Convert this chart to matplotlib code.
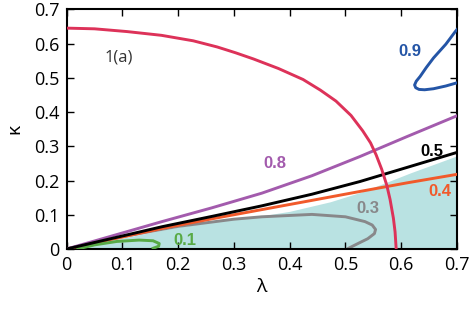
import numpy as np
import matplotlib
matplotlib.use("Agg")
import matplotlib.pyplot as plt

plt.rcParams["font.family"] = ["Open Sans", "DejaVu Sans"]

# curves (lambda, kappa)
red_lam = [0, 0.05, 0.108, 0.17, 0.227, 0.27, 0.303, 0.335, 0.38, 0.424, 0.455,
           0.483, 0.51, 0.531, 0.545, 0.555, 0.565, 0.574, 0.58, 0.586, 0.589, 0.591]
red_kap = [0.645, 0.643, 0.635, 0.624, 0.608, 0.59, 0.573, 0.555, 0.527, 0.495, 0.464,
           0.432, 0.39, 0.345, 0.31, 0.275, 0.233, 0.187, 0.145, 0.09, 0.05, 0]

purple_lam = [0, 0.171, 0.26, 0.35, 0.44, 0.526, 0.61, 0.7]
purple_kap = [0, 0.08, 0.12, 0.163, 0.214, 0.27, 0.328, 0.389]

black_lam = [0, 0.171, 0.26, 0.35, 0.44, 0.526, 0.61, 0.7]
black_kap = [0, 0.065, 0.095, 0.126, 0.16, 0.197, 0.238, 0.282]

orange_lam = [0, 0.171, 0.26, 0.35, 0.44, 0.526, 0.61, 0.7]
orange_kap = [0, 0.06, 0.088, 0.115, 0.142, 0.168, 0.193, 0.218]

gray_lam = [0, 0.1, 0.2, 0.3, 0.35, 0.44, 0.5, 0.535, 0.548, 0.554, 0.552, 0.54, 0.525, 0.503]
gray_kap = [0, 0.036, 0.066, 0.087, 0.094, 0.101, 0.094, 0.08, 0.07, 0.057, 0.045, 0.03, 0.018, 0]

green_lam = [0.02, 0.05, 0.09, 0.13, 0.155, 0.166, 0.165, 0.155]
green_kap = [0, 0.012, 0.022, 0.026, 0.024, 0.016, 0.008, 0.002]

blue_lam = [0.71, 0.697, 0.68, 0.658, 0.645, 0.634, 0.627, 0.624, 0.626, 0.632,
            0.642, 0.658, 0.68, 0.71]
blue_kap = [0.66, 0.635, 0.598, 0.558, 0.53, 0.504, 0.49, 0.479, 0.471, 0.466,
            0.465, 0.468, 0.476, 0.49]

fill_lam = [0, 0.1, 0.2, 0.3, 0.35, 0.4, 0.473, 0.526, 0.574, 0.616, 0.7]
fill_kap = [0, 0.032, 0.064, 0.088, 0.097, 0.11, 0.138, 0.165, 0.195, 0.222, 0.272]

ticks = [0, 0.1, 0.2, 0.3, 0.4, 0.5, 0.6, 0.7]
tick_labels = ["0", "0.1", "0.2", "0.3", "0.4", "0.5", "0.6", "0.7"]

fig = plt.figure(figsize=(4.76, 3.11), dpi=100)
ax = fig.add_axes([0.140, 0.1994, 0.820, 0.7707])

ax.fill_between(fill_lam, 0, fill_kap, color="#b9e2e2", lw=0, zorder=1)

lw = 2.1
ax.plot(gray_lam, gray_kap, color="#88888a", lw=lw, zorder=2)
ax.plot(orange_lam, orange_kap, color="#f15a2b", lw=lw, zorder=3)
ax.plot(black_lam, black_kap, color="black", lw=lw, zorder=4)
ax.plot(purple_lam, purple_kap, color="#a35bad", lw=lw, zorder=3)
ax.plot(green_lam, green_kap, color="#58aa45", lw=lw, zorder=3)
ax.plot(blue_lam, blue_kap, color="#2455a6", lw=lw, zorder=3)
ax.plot(red_lam, red_kap, color="#dd3259", lw=lw, zorder=5)

bold = dict(fontsize=12, fontweight="bold", family=["Liberation Sans", "DejaVu Sans"],
            ha="center", va="center")
ax.text(0.616, 0.577, "0.9", color="#2455a6", **bold)
ax.text(0.374, 0.251, "0.8", color="#a35bad", **bold)
ax.text(0.655, 0.285, "0.5", color="black", **bold)
ax.text(0.670, 0.168, "0.4", color="#f15a2b", **bold)
ax.text(0.541, 0.119, "0.3", color="#88888a", **bold)
ax.text(0.212, 0.024, "0.1", color="#58aa45", **bold)
ax.text(0.093, 0.558, "1(a)", fontsize=12, color="#333333", ha="center", va="center")

ax.set_xlim(0, 0.7)
ax.set_ylim(0, 0.7)
ax.set_xticks(ticks)
ax.set_xticklabels(tick_labels)
ax.set_yticks(ticks)
ax.set_yticklabels(tick_labels)
ax.tick_params(direction="in", length=5, width=1, top=True, right=True,
               labelsize=13, pad=5)
for s in ax.spines.values():
    s.set_linewidth(1.5)

ax.set_xlabel("λ", fontsize=14, labelpad=3)
ax.set_ylabel("κ", fontsize=14, labelpad=8)

plt.savefig("out.png", dpi=100)
